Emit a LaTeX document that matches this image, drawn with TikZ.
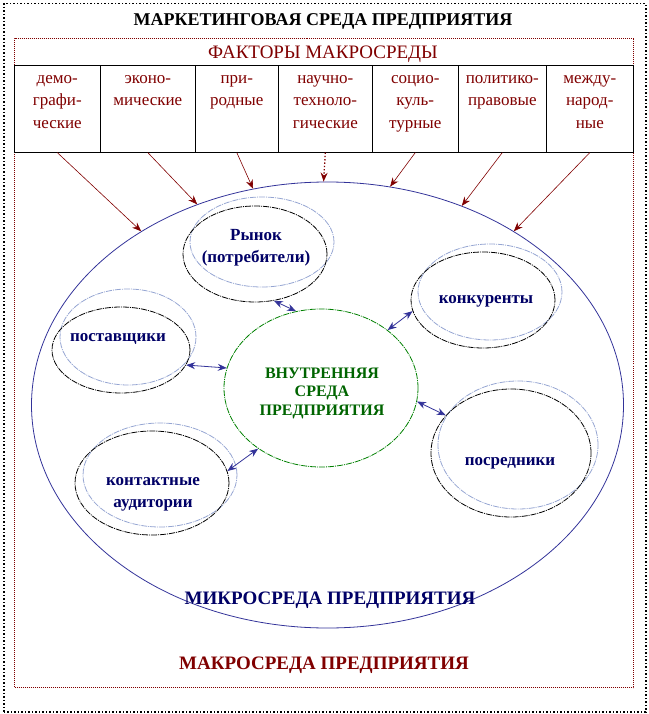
\documentclass[tikz,border=0pt]{standalone}
\usepackage{fontspec}
\setmainfont{Liberation Serif}
\usetikzlibrary{shapes.geometric,arrows.meta}
\definecolor{dred}{HTML}{800000}
\definecolor{dnavy}{HTML}{000066}
\definecolor{lblue}{HTML}{333399}
\definecolor{pblue}{HTML}{95A5D2}
\definecolor{lgreen}{HTML}{008000}
\definecolor{tgreen}{HTML}{006400}
\tikzset{
  fbox/.style={draw=black, line width=0.6pt, minimum width=#1, minimum height=87, inner sep=0, anchor=north west},
  ftext/.style={text=dred, font=\fontsize{17}{22.5}\selectfont, align=center, anchor=north, inner sep=0},
  ringblack/.style={ellipse, draw=black, line width=0.8pt, dash pattern=on 6pt off 1pt on 1pt off 1pt, inner sep=0},
  ringblue/.style={ellipse, draw=pblue, line width=0.8pt, dash pattern=on 6pt off 1pt on 1pt off 1pt, inner sep=0},
  etext/.style={text=dnavy, font=\fontsize{17}{22}\selectfont\bfseries, align=center},
  farrow/.style={draw=dred, line width=0.6pt, -{Stealth[length=9pt,width=7pt]}},
  barrow/.style={draw=lblue, line width=0.8pt, {Stealth[length=9pt,width=7pt]}-{Stealth[length=9pt,width=7pt]}},
}
\begin{document}
\begin{tikzpicture}[x=1pt,y=-1pt]
\useasboundingbox (0,0) rectangle (648,714);
% outer border
\node[draw=black, line width=1.5pt, dotted, minimum width=642, minimum height=708, inner sep=0, anchor=north west] (outer) at (3,3) {};
\node[font=\fontsize{18}{22}\selectfont\bfseries] (title) at (323,21) {МАРКЕТИНГОВАЯ СРЕДА ПРЕДПРИЯТИЯ};
% macro rectangle
\node[draw=dred, line width=1pt, densely dotted, minimum width=619, minimum height=649, inner sep=0, anchor=north west] (macro) at (14,38) {};
\node[text=dred, font=\fontsize{19}{22}\selectfont] (factors) at (323,54.5) {ФАКТОРЫ МАКРОСРЕДЫ};
% factor boxes
\node[fbox=86] (f1) at (14,65) {};
\node[fbox=95] (f2) at (100,65) {};
\node[fbox=83] (f3) at (195,65) {};
\node[fbox=94] (f4) at (278,65) {};
\node[fbox=86] (f5) at (372,65) {};
\node[fbox=88] (f6) at (458,65) {};
\node[fbox=87] (f7) at (546,65) {};
\draw[black, line width=1.6pt, dotted] (f1.south west) -- (f7.south east);
\node[ftext] (t1) at ([yshift=-10]f1.north) {демо-\\графи-\\ческие};
\node[ftext] (t2) at ([yshift=-10]f2.north) {эконо-\\мические};
\node[ftext] (t3) at ([yshift=-10]f3.north) {при-\\родные};
\node[ftext] (t4) at ([yshift=-10]f4.north) {научно-\\техноло-\\гические};
\node[ftext] (t5) at ([yshift=-10]f5.north) {социо-\\куль-\\турные};
\node[ftext] (t6) at ([yshift=-10]f6.north) {политико-\\правовые};
\node[ftext] (t7) at ([yshift=-10]f7.north) {между-\\народ-\\ные};
% micro ellipse
\node[ellipse, draw=lblue, line width=0.8pt, minimum width=592, minimum height=446, inner sep=0] (micro) at (327.5,405) {};
\node[text=dnavy, font=\fontsize{19}{22}\selectfont\bfseries] (microl) at (330,600) {МИКРОСРЕДА ПРЕДПРИЯТИЯ};
\node[text=dred, font=\fontsize{19}{22}\selectfont\bfseries] (macrol) at (324,665) {МАКРОСРЕДА ПРЕДПРИЯТИЯ};
% factor arrows
\draw[farrow] (f1.south) -- (micro.137.5);
\draw[farrow] (f2.south) -- (micro.123.5);
\draw[farrow] (f3.south) -- (micro.109.6);
\draw[farrow, line width=1.3pt, dotted] (f4.south) -- (micro.91);
\draw[farrow] (f5.south) -- (micro.74.6);
\draw[farrow] (f6.south) -- (micro.56.7);
\draw[farrow] (f7.south) -- (micro.43.5);
% inner
\node[ellipse, draw=lgreen, line width=0.8pt, dash pattern=on 6pt off 1pt on 1pt off 1pt, minimum width=194, minimum height=158, inner sep=0] (inner) at (321,388) {};
\node[text=tgreen, font=\fontsize{16}{18.5}\selectfont\bfseries, align=center] (innerl) at (322,393) {ВНУТРЕННЯЯ\\СРЕДА\\ПРЕДПРИЯТИЯ};
% light blue rings
\node[ringblue, minimum width=144, minimum height=90] (rynokb) at (262,242) {};
\node[ringblue, minimum width=136, minimum height=96] (postb) at (128,337) {};
\node[ringblue, minimum width=144, minimum height=96] (konkb) at (490,292) {};
\node[ringblue, minimum width=160, minimum height=128] (posrb) at (518,445) {};
\node[ringblue, minimum width=154, minimum height=104] (kontb) at (160,475) {};
% black rings
\node[ringblack, minimum width=144, minimum height=96] (rynok) at (255,254) {};
\node[ringblack, minimum width=138, minimum height=86] (post) at (121,350) {};
\node[ringblack, minimum width=144, minimum height=96] (konk) at (483,300) {};
\node[ringblack, minimum width=160, minimum height=128] (posr) at (511,453) {};
\node[ringblack, minimum width=154, minimum height=104] (kont) at (152,483) {};
% labels
\node[etext] (rynokl) at (256,248) {Рынок\\(потребители)};
\node[etext] (postl) at (118,339) {поставщики};
\node[etext] (konkl) at (486,301) {конкуренты};
\node[etext] (posrl) at (510,463) {посредники};
\node[etext] (kontl) at (153,494) {контактные\\аудитории};
% bi-arrows
\draw[barrow] (rynok.-68.5) -- (inner.108.4);
\draw[barrow] (post.-13.6) -- (inner.168);
\draw[barrow] (konk.-171.7) -- (inner.41.4);
\draw[barrow] (posr.150.6) -- (inner.-8.8);
\draw[barrow] (kont.9.9) -- (inner.-136.5);
\end{tikzpicture}
\end{document}
